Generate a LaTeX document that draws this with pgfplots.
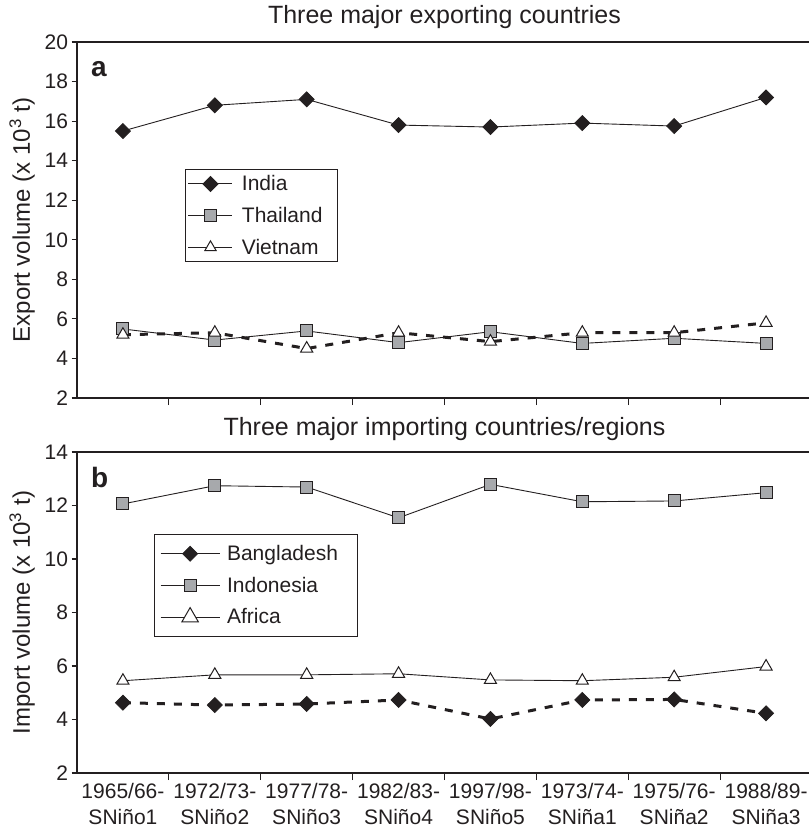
\documentclass[border=0pt]{standalone}
\usepackage{pgfplots}
\pgfplotsset{compat=1.18}
\usepackage{fontspec}
\setmainfont{Liberation Sans}
\definecolor{ink}{HTML}{231F20}
\definecolor{sqgray}{HTML}{A7A9AC}

\pgfplotsset{
  myaxis/.style={
    scale only axis, width=735bp,
    xmin=-0.5, xmax=7.5,
    axis lines*=left,
    axis line style={ink, line width=1.2bp, -},
    every tick/.style={ink, line width=1.2bp},
    tick align=outside,
    major tick length=5.5bp,
    minor tick length=7bp,
    xtick={0,...,7},
    every major x tick/.append style={draw=none},
    minor xtick={0.5,1.5,...,6.5},
    /pgf/number format/assume math mode=true,
    yticklabel style={font=\fontsize{21bp}{24bp}\selectfont, text=ink},
    xticklabel style={font=\fontsize{21bp}{26bp}\selectfont, text=ink, align=center, yshift=-1.5bp},
    ylabel style={font=\fontsize{24bp}{28bp}\selectfont, text=ink, at={(axis description cs:0,0.5)}, anchor=base, yshift=47bp},
    title style={font=\fontsize{25bp}{30bp}\selectfont, text=ink, at={(axis description cs:0.5,1)}, anchor=base},
    legend style={font=\fontsize{21bp}{25bp}\selectfont, text=ink, draw=ink, line width=1bp, anchor=north west, legend cell align=left, row sep=11bp},
    after end axis/.code={\draw[ink, line width=1.2bp] (rel axis cs:0,1) -- (rel axis cs:1,1);},
  },
  sline/.style={ink, line width=0.9bp},
  dline/.style={ink, line width=3bp, dash pattern=on 8bp off 9bp},
  dia/.style={mark=square*, mark size=5.3bp, mark options={solid, rotate=45, fill=ink, draw=ink, line width=0.8bp}},
  sqr/.style={mark=square*, mark size=6bp, mark options={solid, fill=sqgray, draw=ink, line width=1bp}},
  tri/.style={mark=triangle*, mark size=#1, mark options={solid, fill=white, draw=ink, line width=1bp}},
}

\begin{document}
\begin{tikzpicture}
\path[use as bounding box] (0bp,0bp) rectangle (809bp,-836bp);

% ---------- panel a ----------
\begin{axis}[myaxis,
  at={(77bp,-398bp)}, height=356bp,
  ymin=2, ymax=20, ytick={2,4,...,20},
  xticklabels={},
  ylabel={Export volume (x 10\textsuperscript{3} t)},
  title={Three major exporting countries},
  title style={yshift=12.7bp},
  legend style={at={(0.147,0.643)}, inner xsep=2.5bp, inner ysep=4bp, /tikz/every odd column/.append style={column sep=7bp}},
  legend image code/.code={\draw[mark repeat=2,mark phase=2,#1] plot coordinates {(0bp,0bp) (22bp,0bp) (44bp,0bp)};},
]
\addlegendimage{sline, dia}
\addlegendimage{sline, sqr}
\addlegendimage{sline, tri=6.5bp}
\addplot[sline, dia, forget plot] coordinates {(0,15.5) (1,16.8) (2,17.1) (3,15.8) (4,15.7) (5,15.9) (6,15.75) (7,17.2)};
\addplot[sline, sqr, forget plot] coordinates {(0,5.49) (1,4.93) (2,5.39) (3,4.8) (4,5.35) (5,4.76) (6,5.02) (7,4.76)};
\addplot[dline, tri=7bp, forget plot] coordinates {(0,5.2) (1,5.3) (2,4.5) (3,5.3) (4,4.85) (5,5.3) (6,5.3) (7,5.8)};
\legend{India,Thailand\hspace*{11bp},Vietnam}
\node[anchor=base west, font=\fontsize{28bp}{32bp}\selectfont\bfseries, text=ink, inner sep=0pt] at (rel axis cs:0,1) [xshift=14bp, yshift=-34bp] {a};
\end{axis}

% ---------- panel b ----------
\begin{axis}[myaxis,
  at={(77bp,-773bp)}, height=321bp,
  ymin=2, ymax=14, ytick={2,4,...,14},
  xticklabels={{1965/66-\\SNiño1},{1972/73-\\SNiño2},{1977/78-\\SNiño3},{1982/83-\\SNiño4},{1997/98-\\SNiño5},{1973/74-\\SNiña1},{1975/76-\\SNiña2},{1988/89-\\SNiña3}},
  ylabel={Import volume (x 10\textsuperscript{3} t)},
  title={Three major importing countries/regions},
  title style={yshift=10.5bp},
  legend style={at={(0.105,0.745)}, inner xsep=5.5bp, inner ysep=9bp, /tikz/every odd column/.append style={column sep=5bp}},
  legend image code/.code={\draw[mark repeat=2,mark phase=2,#1] plot coordinates {(0bp,0bp) (29.5bp,0bp) (59bp,0bp)};},
]
\addlegendimage{sline, dia}
\addlegendimage{sline, sqr}
\addlegendimage{sline, tri=9.5bp}
\addplot[dline, dia, forget plot] coordinates {(0,4.63) (1,4.54) (2,4.58) (3,4.73) (4,4.02) (5,4.73) (6,4.75) (7,4.23)};
\addplot[sline, sqr, forget plot] coordinates {(0,12.06) (1,12.74) (2,12.69) (3,11.54) (4,12.79) (5,12.14) (6,12.17) (7,12.48)};
\addplot[sline, tri=7bp, forget plot] coordinates {(0,5.45) (1,5.67) (2,5.67) (3,5.71) (4,5.48) (5,5.45) (6,5.58) (7,5.98)};
\legend{Bangladesh\hspace*{12bp},Indonesia,Africa}
\node[anchor=base west, font=\fontsize{28bp}{32bp}\selectfont\bfseries, text=ink, inner sep=0pt] at (rel axis cs:0,1) [xshift=14bp, yshift=-35bp] {b};
\end{axis}
\end{tikzpicture}
\end{document}
